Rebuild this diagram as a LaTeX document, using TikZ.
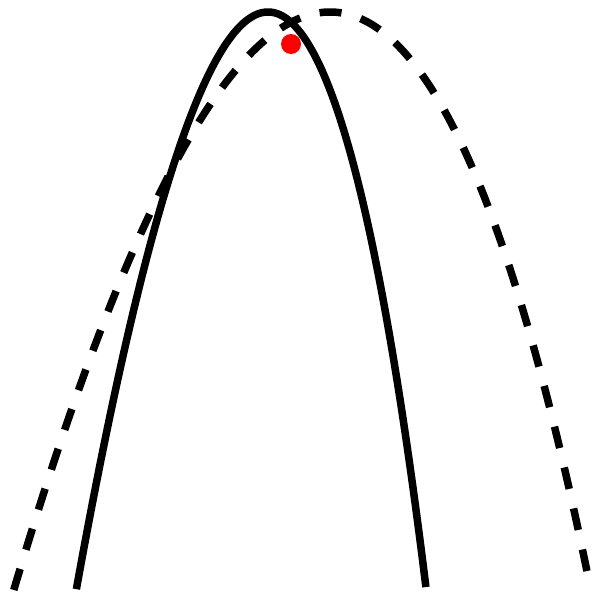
\documentclass[tikz,border=0pt]{standalone}
\begin{document}
\begin{tikzpicture}[x=1pt,y=-1pt,
  curve/.style={line width=7.5pt, black, samples=300, variable=\u},
  dashcurve/.style={curve, dash pattern=on 22pt off 20pt},
  dot/.style={circle, fill=red, inner sep=0pt, minimum size=20pt}]
\useasboundingbox (0,0) rectangle (592,594);
\clip (0,0) rectangle (592,594);
\draw[dashcurve, domain=-2.885:2.885] plot ({330 + 100*\u - 3.33*\u*\u}, {12 + 69.44*\u*\u});
\draw[curve, domain=-1.749:1.749] plot ({268 + 100*\u - 5.47*\u*\u}, {12 + 188.68*\u*\u});
\node[dot] (p) at (291,44) {};
\end{tikzpicture}
\end{document}
